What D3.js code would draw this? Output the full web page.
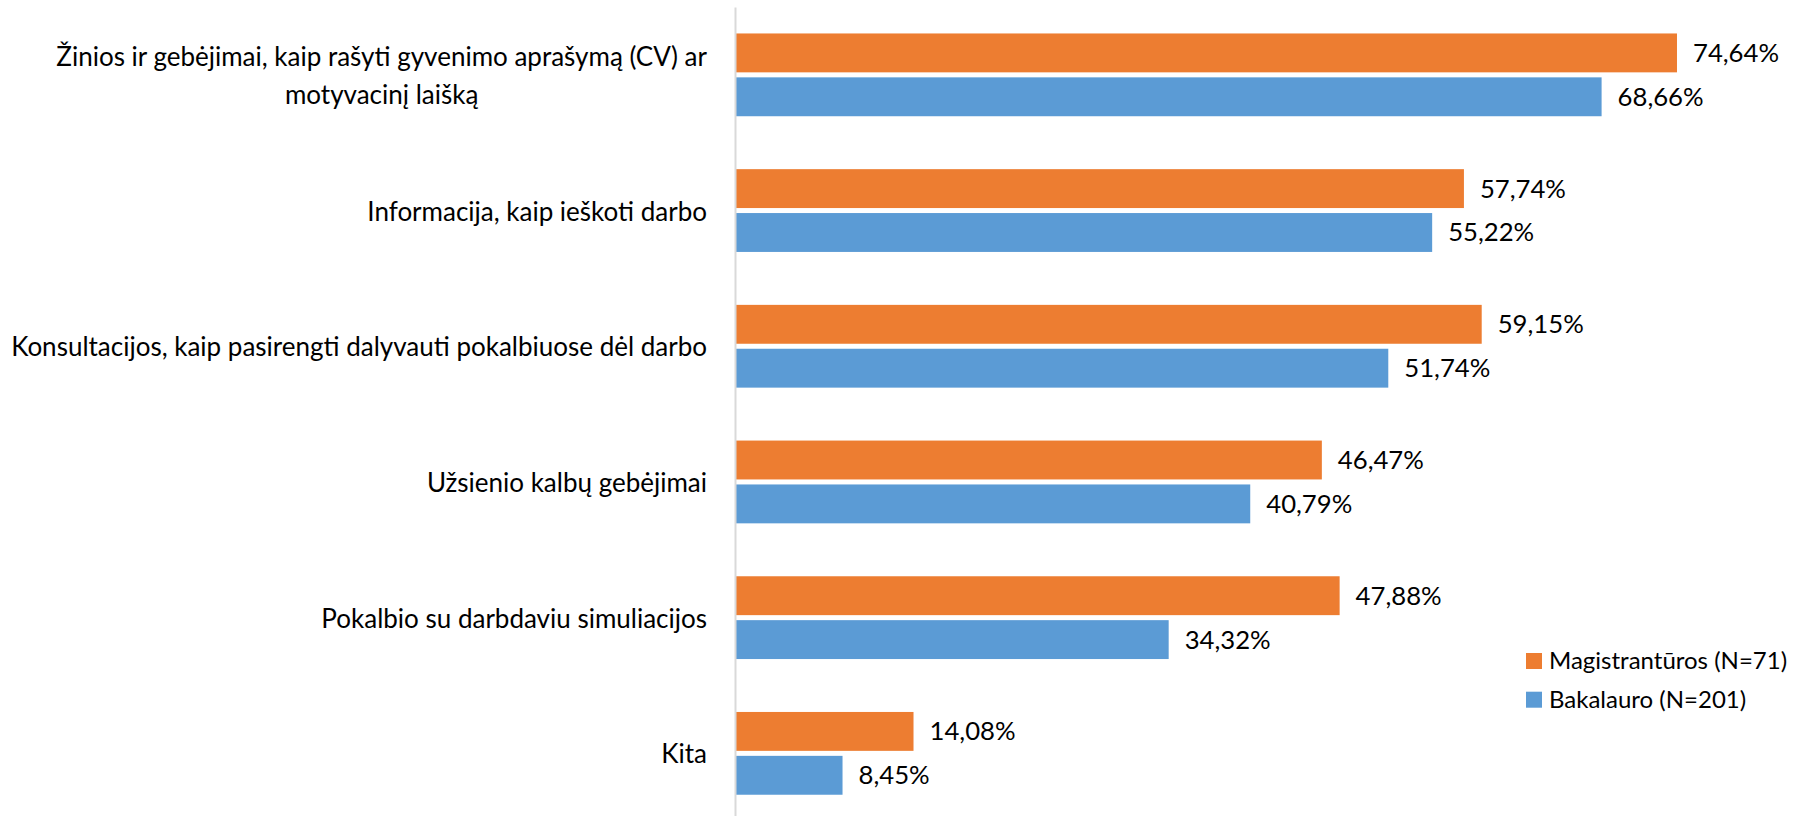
<!DOCTYPE html>
<html>
<head>
<meta charset="utf-8">
<script src="https://cdn.jsdelivr.net/npm/d3@7"></script>
<style>
  html, body { margin: 0; padding: 0; background: #fff; }
  svg { display: block; }
  text { font-family: Lato, "Open Sans", sans-serif; fill: #000; }
</style>
</head>
<body>
<svg id="chart" width="1812" height="816"></svg>
<script>
const categories = [
  "Žinios ir gebėjimai, kaip rašyti gyvenimo aprašymą (CV) ar\nmotyvacinį laišką",
  "Informacija, kaip ieškoti darbo",
  "Konsultacijos, kaip pasirengti dalyvauti pokalbiuose dėl darbo",
  "Užsienio kalbų gebėjimai",
  "Pokalbio su darbdaviu simuliacijos",
  "Kita"
];
const seriesNames = ["Magistrantūros (N=71)", "Bakalauro (N=201)"];
const magistrantura = [74.64, 57.74, 59.15, 46.47, 47.88, 14.08];
const bakalauras = [68.66, 55.22, 51.74, 40.79, 34.32, 8.45];
const seriesColors = ["#ED7D31", "#5B9BD5"];

const seriesValues = [magistrantura, bakalauras];
const rows = [];
categories.forEach((c, i) => {
  seriesNames.forEach((s, j) => rows.push({ category: c, series: s, value: seriesValues[j][i], color: seriesColors[j] }));
});

const svg = d3.select("#chart");
const axisX = 736;
const x = d3.scaleLinear().domain([0, 80]).range([axisX, axisX + 80 * 12.607]);
const y = d3.scaleBand().domain(categories).range([7, 7 + 6 * 135.7]).paddingInner(0.39).paddingOuter(0.195);
const yInner = d3.scaleBand().domain(seriesNames).range([0, y.bandwidth()]).paddingInner(0.114);

const locale = d3.formatLocale({ decimal: ",", thousands: " ", grouping: [3], currency: ["", "€"] });
const fmt = v => locale.format(".2f")(v) + "%";

const catFont = 26;
const valFont = 25.7;
const legFont = 24;

// bars
svg.append("g").selectAll("rect").data(rows).join("rect")
  .attr("x", x(0))
  .attr("y", d => y(d.category) + yInner(d.series))
  .attr("width", d => x(d.value) - x(0))
  .attr("height", yInner.bandwidth())
  .attr("fill", d => d.color);

// value labels
svg.append("g").selectAll("text").data(rows).join("text")
  .attr("x", d => x(d.value) + 16)
  .attr("y", d => y(d.category) + yInner(d.series) + yInner.bandwidth() / 2)
  .attr("dy", "0.35em")
  .style("font-size", valFont + "px")
  .text(d => fmt(d.value));

// category axis
const axis = svg.append("g")
  .attr("transform", `translate(${axisX - 1},0)`)
  .call(d3.axisLeft(y).tickSize(0).tickSizeOuter(0).tickPadding(28).tickFormat(() => ""));
axis.select(".domain").attr("stroke", "#d9d9d9").attr("stroke-width", 2);

axis.selectAll(".tick text").each(function (d) {
  const t = d3.select(this);
  t.text(null).attr("text-anchor", "middle").style("font-size", catFont + "px").attr("fill", "#000");
  const lines = d.split("\n");
  const lineH = 38;
  const spans = lines.map((ln, k) => t.append("tspan").text(ln)
    .attr("y", (k - (lines.length - 1) / 2) * lineH)
    .attr("dominant-baseline", "central"));
  const w = d3.max(spans, s => s.node().getComputedTextLength());
  spans.forEach(s => s.attr("x", -28 - w / 2));
  t.attr("dy", null);
});

// legend
const legend = svg.append("g").attr("transform", "translate(1526,653)");
const li = legend.selectAll("g").data(seriesNames).join("g")
  .attr("transform", (d, i) => `translate(0,${i * 38.7})`);
li.append("rect").attr("width", 16).attr("height", 16).attr("fill", (d, i) => seriesColors[i]);
li.append("text").attr("x", 23).attr("y", 8).attr("dy", "0.35em")
  .style("font-size", legFont + "px").text(d => d);
</script>
</body>
</html>
